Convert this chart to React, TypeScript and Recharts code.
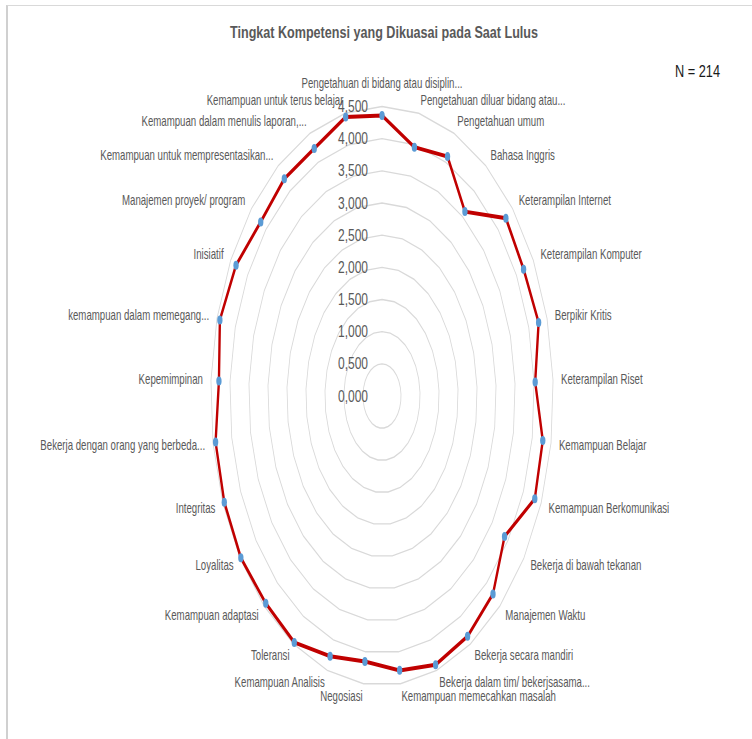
import React from 'react';
import { RadarChart, Radar, PolarGrid, PolarAngleAxis, PolarRadiusAxis } from 'recharts';

// categories, clockwise from the top
const categories = [
  'Pengetahuan di bidang atau disiplin...',
  'Pengetahuan diluar bidang atau...',
  'Pengetahuan umum',
  'Bahasa Inggris',
  'Keterampilan Internet',
  'Keterampilan Komputer',
  'Berpikir Kritis',
  'Keterampilan Riset',
  'Kemampuan Belajar',
  'Kemampuan Berkomunikasi',
  'Bekerja di bawah tekanan',
  'Manajemen Waktu',
  'Bekerja secara mandiri',
  'Bekerja dalam tim/ bekerjsasama...',
  'Kemampuan memecahkan masalah',
  'Negosiasi',
  'Kemampuan Analisis',
  'Toleransi',
  'Kemampuan adaptasi',
  'Loyalitas',
  'Integritas',
  'Bekerja dengan orang yang berbeda...',
  'Kepemimpinan',
  'kemampuan dalam memegang...',
  'Inisiatif',
  'Manajemen proyek/ program',
  'Kemampuan untuk mempresentasikan...',
  'Kemampuan dalam menulis laporan,...',
  'Kemampuan untuk terus belajar',
];

const scores = [
  4.36, 3.96, 4.1, 3.6, 4.27, 4.21, 4.27, 4.03, 4.28, 4.32,
  3.89, 4.24, 4.36, 4.41, 4.29, 4.15, 4.27, 4.47, 4.44, 4.48,
  4.46, 4.43, 4.29, 4.42, 4.34, 4.18, 4.24, 4.24, 4.44,
];

const radiusTicks = [0, 0.5, 1, 1.5, 2, 2.5, 3, 3.5, 4, 4.5];

const data = categories.map((name, i) => ({ name, score: scores[i] }));

// the reference plot is squashed horizontally (ellipse, not circle)
const K = 171.3 / 289.5;
const TK = 0.69 / K; // text width correction for category labels
const TKR = 0.75 / K; // text width correction for value labels
const FONT = '"Liberation Sans", Arial, sans-serif';
const TICK_SIZE = 8;

const W = 1270;
const CX = 382 / K;
const CY = 396;
const R = 289.5;

const AngleTick = (props: any) => {
  const { x, y, payload } = props;
  const a = (payload.coordinate * Math.PI) / 180;
  const c = Math.cos(a);
  const s = Math.sin(a);
  const anchor = c > 1e-3 ? 'start' : c < -1e-3 ? 'end' : 'middle';
  // library puts x,y at R + TICK_SIZE; wanted screen gap is 8px across, 13px up/down
  const dx = (8 * c - TICK_SIZE * c * K) / K;
  const dy = -13 * s + TICK_SIZE * s - (s > 0.999 ? 10 : 0);
  return (
    <g transform={`translate(${x + dx},${y + dy}) scale(${TK},1)`}>
      <text textAnchor={anchor} dominantBaseline="central" fontSize={14} fill="#595959" fontFamily={FONT}>
        {payload.value}
      </text>
    </g>
  );
};

const RadiusTick = (props: any) => {
  const { x, y, payload } = props;
  const label = Number(payload.value).toFixed(3).replace('.', ',');
  return (
    <g transform={`translate(${x - 14 / K},${y}) scale(${TKR},1)`}>
      <text textAnchor="end" dominantBaseline="central" fontSize={16} fill="#595959" fontFamily={FONT}>
        {label}
      </text>
    </g>
  );
};

const Dot = (props: any) => <circle cx={props.cx} cy={props.cy} r={4.5} fill="#5b9bd5" />;

export default function App() {
  return (
    <div style={{ position: 'absolute', left: 0, top: 0, width: 752, height: 739, overflow: 'hidden', background: '#fff' }}>
      <div
        style={{
          position: 'absolute',
          left: 6,
          top: 5,
          width: 800,
          height: 800,
          borderTop: '1px solid #d9d9d9',
          borderLeft: '2px solid #d0d0d0',
        }}
      />
      <div style={{ position: 'absolute', left: 0, top: 0, width: W, transform: `scaleX(${K})`, transformOrigin: '0 0' }}>
        <RadarChart width={W} height={739} cx={CX} cy={CY} outerRadius={R} data={data}>
          <PolarGrid gridType="polygon" radialLines={false} stroke="#d9d9d9" strokeWidth={1.4} />
          <PolarAngleAxis dataKey="name" tick={<AngleTick />} tickLine={false} axisLine={false} tickSize={TICK_SIZE} />
          <PolarRadiusAxis
            angle={90}
            type="number"
            domain={[0, 4.5]}
            allowDecimals
            allowDataOverflow
            tickCount={radiusTicks.length}
            ticks={radiusTicks as any}
            axisLine={false}
            tick={<RadiusTick />}
          />
          <Radar
            dataKey="score"
            stroke="#c00000"
            strokeWidth={4}
            fill="none"
            fillOpacity={0}
            dot={<Dot />}
            isAnimationActive={false}
          />
        </RadarChart>
      </div>
      <svg width={752} height={739} style={{ position: 'absolute', left: 0, top: 0, pointerEvents: 'none' }}>
        <text
          x={384}
          y={38}
          textAnchor="middle"
          fontSize={16}
          fontWeight="bold"
          fill="#595959"
          fontFamily={FONT}
          textLength={308}
          lengthAdjust="spacingAndGlyphs"
        >
          Tingkat Kompetensi yang Dikuasai pada Saat Lulus
        </text>
        <text x={675} y={77} fontSize={17} fill="#1a1a1a" fontFamily={FONT} textLength={45} lengthAdjust="spacingAndGlyphs">
          N = 214
        </text>
      </svg>
    </div>
  );
}
